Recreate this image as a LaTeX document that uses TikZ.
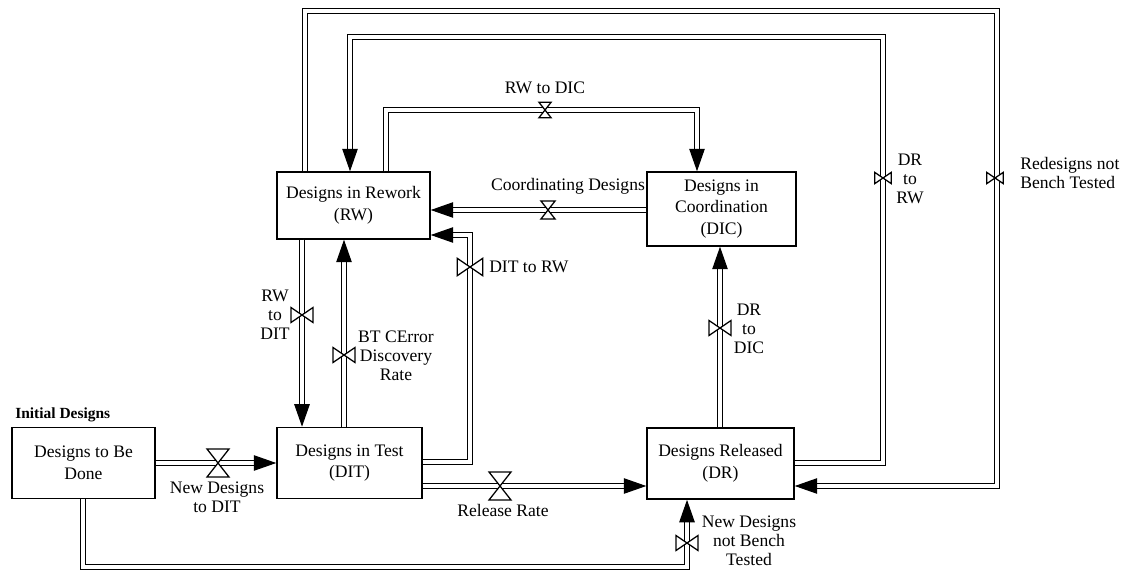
\documentclass[tikz,border=0pt]{standalone}
\usepackage{fontspec}
\setmainfont{Liberation Serif}
\usetikzlibrary{arrows.meta,positioning}

\begin{document}
\begin{tikzpicture}[
x=0.025cm, y=-0.025cm,
stock/.style={
draw,
line width=1pt,
minimum width=3.6cm,
minimum height=1.78cm,
align=center,
font=\fontsize{12.5}{15.5}\selectfont,
inner sep=2pt
},
pipe/.style={draw, line width=0.8pt, double distance=2.2pt, -{Triangle[length=16pt,width=11pt]}},
lbl/.style={align=center, font=\fontsize{12.5}{13.5}\selectfont, inner sep=0pt},
valveh/.pic={\draw[line width=0.9pt, fill=white] (-11,-14) -- (11,-14) -- (-11,14) -- (11,14) -- cycle;},
valvev/.pic={\draw[line width=0.9pt, fill=white] (-11,-7.5) -- (-11,7.5) -- (11,-7.5) -- (11,7.5) -- cycle;}
]
\useasboundingbox (0,0) rectangle (1128,571);

% stocks
\node[stock,minimum width=3.575cm] (dbd) at (83.5,463) {Designs to Be\\Done};
\node[stock,minimum width=3.625cm] (dit) at (349.5,463) {Designs in Test\\(DIT)};
\node[stock,minimum width=3.825cm,minimum height=1.675cm] (rw) at (353.5,205.5) {Designs in Rework\\(RW)};
\node[stock,minimum width=3.725cm,minimum height=1.85cm] (dic) at (721.5,209) {Designs in\\Coordination\\(DIC)};
\node[stock,minimum width=3.675cm] (dr) at (720.5,463.5) {Designs Released\\(DR)};
\node[anchor=west,inner sep=0pt,font=\bfseries\fontsize{11}{12}\selectfont] (init) at (15,415) {Initial Designs};

% flows
\draw[pipe] (dbd) -- (dit);
\draw[pipe] (dit.east |- 0,486) -- (dr.west |- 0,486);
\draw[pipe] (302,0 |- rw.south) -- (302,0 |- dit.north);
\draw[pipe] (344,0 |- dit.north) -- (344,0 |- rw.south);
\draw[pipe] (dit.east |- 0,462) -| (470,235) -- (rw.east |- 0,235);
\draw[pipe] (dic.west |- 0,210) -- (rw.east |- 0,210);
\draw[pipe] (386,0 |- rw.north) |- (697,110) -- (697,0 |- dic.north);
\draw[pipe] (720,0 |- dr.north) -- (720,0 |- dic.south);
\draw[pipe] (dr.east |- 0,463) -| (883,37) -| (350,0 |- rw.north);
\draw[pipe] (305,0 |- rw.north) |- (997,11) |- (dr.east |- 0,486);
\draw[pipe] (83,0 |- dbd.south) |- (687,567) -- (687,0 |- dr.south);

% valves
\pic at (218,463) {valveh};
\pic at (500,486) {valveh};
\pic[scale=0.65] at (548,210) {valveh};
\pic[scale=0.55] at (545,110) {valveh};
\pic at (302,315) {valvev};
\pic at (344,355) {valvev};
\pic[scale=1.15] at (470,267) {valvev};
\pic at (720,328) {valvev};
\pic at (687,543) {valvev};
\pic[scale=0.75] at (883,178) {valvev};
\pic[scale=0.75] at (995,178) {valvev};

% flow names
\node[lbl] (l1) at (217,497) {New Designs\\to DIT};
\node[lbl] (l2) at (503,510) {Release Rate};
\node[lbl] (l3) at (545,88) {RW to DIC};
\node[lbl] (l4) at (568,186) {Coordinating Designs};
\node[lbl,anchor=west] (l5) at (489,267) {DIT to RW};
\node[lbl] (l6) at (275,315) {RW\\to\\DIT};
\node[lbl] (l7) at (396,356) {BT CError\\Discovery\\Rate};
\node[lbl] (l8) at (749,329) {DR\\to\\DIC};
\node[lbl] (l9) at (910,179) {DR\\to\\RW};
\node[lbl,align=left,anchor=west] (l10) at (1020,173) {Redesigns not\\Bench Tested};
\node[lbl] (l11) at (749,541) {New Designs\\not Bench\\Tested};
\end{tikzpicture}
\end{document}
